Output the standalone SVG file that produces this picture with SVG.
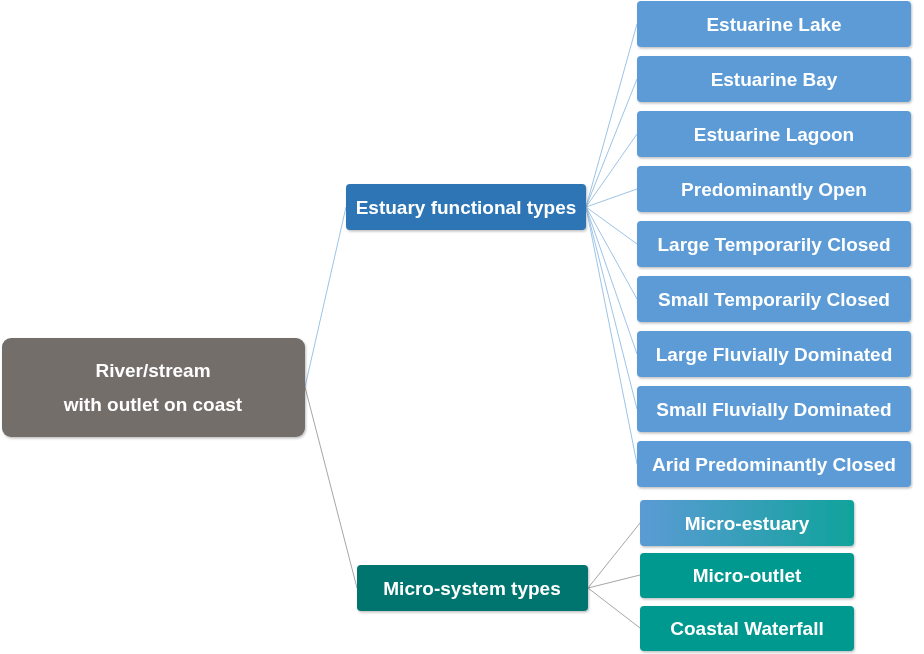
<svg xmlns="http://www.w3.org/2000/svg" width="924" height="654" viewBox="0 0 924 654">
<style>
.t{font-family:"Liberation Sans",Arial,sans-serif;font-weight:bold;font-size:19px;fill:#ffffff;text-anchor:middle;dominant-baseline:central}
.blue{fill:#5b9bd5}
.teal{fill:#009990}
.cb{stroke:#9dc3e6;stroke-width:1;fill:none}
.cg{stroke:#a6a6a6;stroke-width:1;fill:none}
</style>
<defs>
<linearGradient id="g1" x1="0" y1="0" x2="1" y2="0">
<stop offset="0" stop-color="#5b9bd5"/>
<stop offset="1" stop-color="#10a39b"/>
</linearGradient>
<filter id="sh" x="-5%" y="-10%" width="110%" height="130%">
<feDropShadow dx="1" dy="1.5" stdDeviation="1" flood-color="#000" flood-opacity="0.25"/>
</filter>
</defs>
<rect width="924" height="654" fill="#ffffff"/>
<g id="connectors">
<line class="cb" x1="305" y1="387" x2="346" y2="207"/>
<line class="cg" x1="305" y1="387" x2="357" y2="588"/>
<line class="cb" x1="586" y1="207" x2="637" y2="24"/>
<line class="cb" x1="586" y1="207" x2="637" y2="79"/>
<line class="cb" x1="586" y1="207" x2="637" y2="134"/>
<line class="cb" x1="586" y1="207" x2="637" y2="189"/>
<line class="cb" x1="586" y1="207" x2="637" y2="244"/>
<line class="cb" x1="586" y1="207" x2="637" y2="299"/>
<line class="cb" x1="586" y1="207" x2="637" y2="354"/>
<line class="cb" x1="586" y1="207" x2="637" y2="409"/>
<line class="cb" x1="586" y1="207" x2="637" y2="464"/>
<line class="cg" x1="588" y1="588" x2="640" y2="523"/>
<line class="cg" x1="588" y1="588" x2="640" y2="575"/>
<line class="cg" x1="588" y1="588" x2="640" y2="628"/>
</g>
<g id="root" filter="url(#sh)">
<rect x="2" y="338" width="303" height="99" rx="9" fill="#736e6b"/>
<text class="t" x="153" y="370">River/stream</text>
<text class="t" x="153" y="404">with outlet on coast</text>
</g>
<g id="estuary-types" filter="url(#sh)">
<rect x="346" y="184" width="240" height="46" rx="4" fill="#2e75b6"/>
<text class="t" x="466" y="207">Estuary functional types</text>
</g>
<g id="micro-types" filter="url(#sh)">
<rect x="357" y="565" width="231" height="46" rx="4" fill="#00756f"/>
<text class="t" x="472" y="588">Micro-system types</text>
</g>
<g id="estuarine-lake" filter="url(#sh)"><rect class="blue" x="637" y="1" width="274" height="46" rx="4"/><text class="t" x="774" y="24">Estuarine Lake</text></g>
<g id="estuarine-bay" filter="url(#sh)"><rect class="blue" x="637" y="56" width="274" height="46" rx="4"/><text class="t" x="774" y="79">Estuarine Bay</text></g>
<g id="estuarine-lagoon" filter="url(#sh)"><rect class="blue" x="637" y="111" width="274" height="46" rx="4"/><text class="t" x="774" y="134">Estuarine Lagoon</text></g>
<g id="predominantly-open" filter="url(#sh)"><rect class="blue" x="637" y="166" width="274" height="46" rx="4"/><text class="t" x="774" y="189">Predominantly Open</text></g>
<g id="large-tc" filter="url(#sh)"><rect class="blue" x="637" y="221" width="274" height="46" rx="4"/><text class="t" x="774" y="244">Large Temporarily Closed</text></g>
<g id="small-tc" filter="url(#sh)"><rect class="blue" x="637" y="276" width="274" height="46" rx="4"/><text class="t" x="774" y="299">Small Temporarily Closed</text></g>
<g id="large-fd" filter="url(#sh)"><rect class="blue" x="637" y="331" width="274" height="46" rx="4"/><text class="t" x="774" y="354">Large Fluvially Dominated</text></g>
<g id="small-fd" filter="url(#sh)"><rect class="blue" x="637" y="386" width="274" height="46" rx="4"/><text class="t" x="774" y="409">Small Fluvially Dominated</text></g>
<g id="arid-pc" filter="url(#sh)"><rect class="blue" x="637" y="441" width="274" height="46" rx="4"/><text class="t" x="774" y="464">Arid Predominantly Closed</text></g>
<g id="micro-estuary" filter="url(#sh)"><rect x="640" y="500" width="214" height="46" rx="4" fill="url(#g1)"/><text class="t" x="747" y="523">Micro-estuary</text></g>
<g id="micro-outlet" filter="url(#sh)"><rect class="teal" x="640" y="553" width="214" height="45" rx="4"/><text class="t" x="747" y="575">Micro-outlet</text></g>
<g id="coastal-waterfall" filter="url(#sh)"><rect class="teal" x="640" y="606" width="214" height="45" rx="4"/><text class="t" x="747" y="628">Coastal Waterfall</text></g>
</svg>
